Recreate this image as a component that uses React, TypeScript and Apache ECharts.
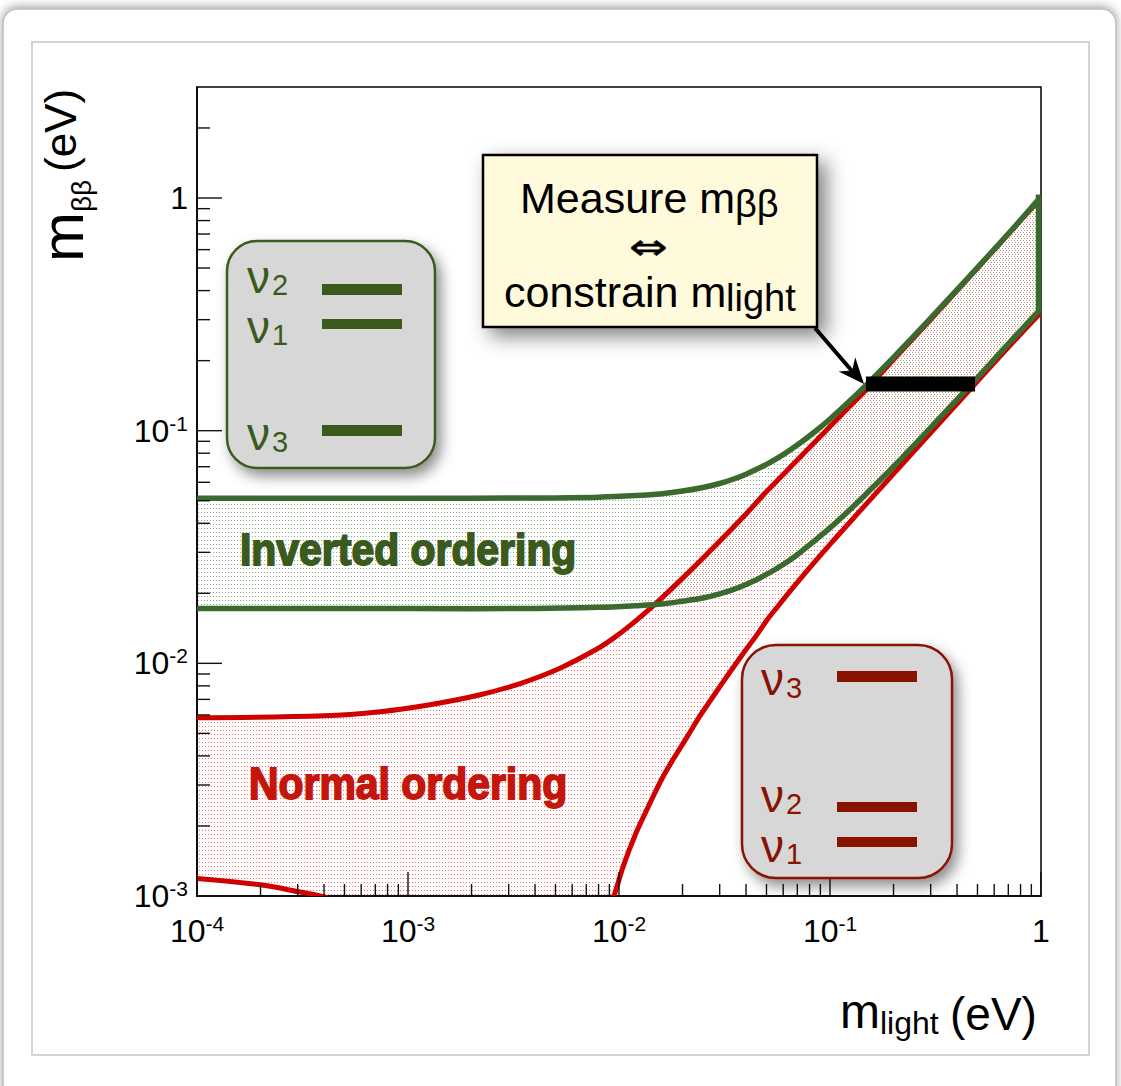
import { useEffect, useRef } from 'react';
import * as echarts from 'echarts';

// ---------- axis structure ----------
const X_DECADES = [1e-4, 1e-3, 1e-2, 1e-1, 1];
const Y_DECADES = [1e-3, 1e-2, 1e-1, 1];
const MANTISSA = [2, 3, 4, 5, 6, 7, 8, 9];

// ---------- Inverted ordering band ----------
const IO_X = [1e-4, 1e-3, 0.004, 0.008, 0.012, 0.016, 0.02, 0.025, 0.03, 0.035, 0.04, 0.05, 0.06, 0.07, 0.085, 0.1, 0.12, 0.15, 0.2, 0.3, 0.5, 0.7, 1];
const IO_UPPER = [0.0512, 0.0512, 0.0514, 0.0518, 0.0526, 0.0536, 0.055, 0.057, 0.0593, 0.062, 0.065, 0.0716, 0.0789, 0.0867, 0.0992, 0.1123, 0.1305, 0.1585, 0.2064, 0.3043, 0.5026, 0.7019, 1.015];
const IO_LOWER = [0.0172, 0.0172, 0.0172, 0.0174, 0.0177, 0.018, 0.0185, 0.0191, 0.0199, 0.0208, 0.0218, 0.0241, 0.0266, 0.0293, 0.0338, 0.0382, 0.0444, 0.054, 0.07, 0.103, 0.169, 0.236, 0.335];

// ---------- Normal ordering band ----------
const NO_UP_X = [1e-4, 4e-4, 7.4e-4, 0.00127, 0.0022, 0.0034, 0.00525, 0.0079, 0.0095, 0.0113, 0.0151, 0.021, 0.03, 0.04, 0.05, 0.07, 0.1, 0.12, 0.143, 0.17, 0.2, 0.3, 0.5, 0.7, 1];
const NO_UPPER = [0.00584, 0.00595, 0.0062, 0.00664, 0.00733, 0.00819, 0.00953, 0.01155, 0.0129, 0.01455, 0.01825, 0.02424, 0.03351, 0.04387, 0.0547, 0.0748, 0.1042, 0.1234, 0.1447, 0.172, 0.202, 0.3, 0.5, 0.7, 1.0];
const NO_LO_X = [0.009, 0.0095, 0.0105, 0.012, 0.014, 0.016, 0.018, 0.021, 0.0242, 0.03, 0.0383, 0.045, 0.05, 0.0561, 0.065, 0.078, 0.1, 0.143, 0.2, 0.3, 0.5, 0.7, 1];
const NO_LOWER = [0.00089, 0.00101, 0.00135, 0.00185, 0.0025, 0.0032, 0.00385, 0.00482, 0.00594, 0.00792, 0.01086, 0.01325, 0.01524, 0.0174, 0.02054, 0.02504, 0.03246, 0.04657, 0.06525, 0.09784, 0.1631, 0.2282, 0.3225];
const NO_LO2_X = [1e-4, 2.03e-4, 3.08e-4, 3.83e-4, 4.3e-4];
const NO_LOWER2 = [0.00119, 0.001115, 0.00104, 0.001, 0.00097];

// ---------- measured m_bb band ----------
const BAR_X = [0.148, 0.487];
const BAR_Y = [0.1586, 0.1586];

const FONT = '"Liberation Sans", Arial, Helvetica, sans-serif';
const GREEN_LINE = '#3b6a2f';
const GREEN_DARK = '#3b5a1e';
const RED_LINE = '#d00000';
const RED_DARK = '#871300';

function dots(color: string, ox: number, oy: number) {
  const c = document.createElement('canvas');
  c.width = 3;
  c.height = 4;
  const ctx = c.getContext('2d')!;
  ctx.fillStyle = color;
  ctx.fillRect(ox, oy, 1, 1);
  return { image: c.toDataURL(), repeat: 'repeat', imageWidth: 3, imageHeight: 4 };
}

function pts(api: any, xs: number[], ys: number[]) {
  return xs.map((x, i) => api.coord([x, ys[i]]));
}

function decadeLabel(v: number) {
  const l = Math.log10(v);
  const e = Math.round(l);
  if (Math.abs(l - e) > 1e-6) return '';
  if (e === 0) return '{b|1}';
  return '{b|10}{s|' + e + '}';
}

export default function App() {
  const ref = useRef<HTMLDivElement>(null);
  useEffect(() => {
    if (!ref.current) return;
    const chart = echarts.init(ref.current, undefined, { renderer: 'svg' });
    const greenFill = dots('rgba(70,120,60,0.6)', 0, 0);
    const redFill = dots('rgba(230,30,30,0.65)', 1, 2);

    const tickData: number[][] = [];
    X_DECADES.forEach((d, i) => {
      tickData.push([d, 1e-3, 0, 24]);
      if (i < X_DECADES.length - 1) MANTISSA.forEach((m) => tickData.push([d * m, 1e-3, 0, 12]));
    });
    Y_DECADES.forEach((d, i) => {
      tickData.push([1e-4, d, 1, 25]);
      if (i < Y_DECADES.length - 1) MANTISSA.forEach((m) => tickData.push([1e-4, d * m, 1, 13]));
    });
    tickData.push([1e-4, 2, 1, 13]);

    const labelRich = {
      b: { fontSize: 32, lineHeight: 36, fontFamily: FONT, color: '#000' },
      s: { fontSize: 21, lineHeight: 16, verticalAlign: 'top', fontFamily: FONT, color: '#000' },
    };

    const curveLine = (xs: number[], ys: number[], color: string, w: number, z: number) => ({
      type: 'custom',
      coordinateSystem: 'cartesian2d',
      clip: true,
      silent: true,
      z,
      data: [[0.01, 0.01]],
      renderItem: (_p: any, api: any) => ({
        type: 'polyline',
        shape: { points: pts(api, xs, ys), smooth: 0.35 },
        style: { stroke: color, lineWidth: w, fill: null, lineJoin: 'round', lineCap: 'butt' },
      }),
    });

    const txt = (text: string, x: number, y: number, fs: number, fill: string, extra: any = {}) => ({
      type: 'text', z: 101, x, y, ...extra,
      style: { text, fontSize: fs, fontFamily: FONT, fill, align: 'left', verticalAlign: 'middle', ...(extra.style || {}) },
    });

    const option: any = {
      animation: false,
      grid: { left: 197, top: 87, width: 844, height: 809, show: true, borderColor: '#000', borderWidth: 1.5, backgroundColor: 'transparent' },
      xAxis: {
        type: 'log', logBase: 10, min: 1e-4, max: 1,
        axisLine: { show: true, lineStyle: { color: '#000', width: 1.5 } },
        axisTick: { show: false }, minorTick: { show: false }, splitLine: { show: false },
        axisLabel: { margin: 17, formatter: decadeLabel, rich: labelRich, showMinLabel: true, showMaxLabel: true },
      },
      yAxis: {
        type: 'log', logBase: 10, min: 1e-3, max: 3,
        axisLine: { show: true, lineStyle: { color: '#000', width: 1.5 } },
        axisTick: { show: false }, minorTick: { show: false }, splitLine: { show: false },
        axisLabel: { margin: 9, formatter: decadeLabel, rich: labelRich, showMinLabel: true },
      },
      series: [
        {
          type: 'custom', coordinateSystem: 'cartesian2d', clip: true, silent: true, z: 1,
          data: [[0.01, 0.01]],
          renderItem: (_p: any, api: any) => ({
            type: 'polygon',
            shape: { points: [...pts(api, IO_X, IO_UPPER), ...pts(api, IO_X, IO_LOWER).reverse()] },
            style: { fill: greenFill, stroke: null },
          }),
        },
        {
          type: 'custom', coordinateSystem: 'cartesian2d', clip: true, silent: true, z: 1,
          data: [[0.01, 0.01]],
          renderItem: (_p: any, api: any) => ({
            type: 'polygon',
            shape: {
              points: [
                ...pts(api, NO_UP_X, NO_UPPER),
                ...pts(api, NO_LO_X, NO_LOWER).reverse(),
                ...pts(api, NO_LO2_X, NO_LOWER2).reverse(),
              ],
            },
            style: { fill: redFill, stroke: null },
          }),
        },
        curveLine(NO_UP_X, NO_UPPER, RED_LINE, 5, 3),
        curveLine(NO_LO_X, NO_LOWER, RED_LINE, 5, 3),
        curveLine(NO_LO2_X, NO_LOWER2, RED_LINE, 5, 3),
        curveLine(IO_X, IO_UPPER, GREEN_LINE, 5.5, 4),
        curveLine(IO_X, IO_LOWER, GREEN_LINE, 5.5, 4),
        {
          type: 'custom', coordinateSystem: 'cartesian2d', clip: true, silent: true, z: 4,
          data: [[1, 0.5]],
          renderItem: (_p: any, api: any) => {
            const n = IO_X.length - 1;
            const a = api.coord([IO_X[n], IO_UPPER[n]]);
            const b = api.coord([IO_X[n], IO_LOWER[n]]);
            return { type: 'line', shape: { x1: a[0] - 2.5, y1: a[1] - 2, x2: b[0] - 2.5, y2: b[1] + 2 }, style: { stroke: GREEN_LINE, lineWidth: 5.5 } };
          },
        },
        {
          type: 'line', z: 5, silent: true, symbol: 'none',
          data: BAR_X.map((x, i) => [x, BAR_Y[i]]),
          lineStyle: { color: '#000', width: 15, cap: 'butt' },
        },
        {
          type: 'custom', coordinateSystem: 'cartesian2d', clip: false, silent: true, z: 6,
          data: tickData,
          renderItem: (_p: any, api: any) => {
            const p = api.coord([api.value(0), api.value(1)]);
            const dir = api.value(2);
            const len = api.value(3);
            return {
              type: 'line',
              shape: { x1: p[0], y1: p[1], x2: p[0] + (dir ? len : 0), y2: p[1] - (dir ? 0 : len) },
              style: { stroke: '#111', lineWidth: 1.4 },
            };
          },
        },
      ],
      graphic: [
        { type: 'rect', z: -20, shape: { x: 3, y: 9, width: 1113, height: 1095, r: 14 }, style: { fill: '#fff', stroke: '#bcbcbc', lineWidth: 1.5, shadowBlur: 10, shadowColor: 'rgba(0,0,0,0.35)', shadowOffsetY: -2 } },
        { type: 'rect', z: -19, shape: { x: 32, y: 42, width: 1057, height: 1013 }, style: { fill: '#fff', stroke: '#d4d4d4', lineWidth: 2 } },

        // axis titles
        txt('m', 840, 1011, 48, '#000', { z: 50 }),
        txt('light', 880, 1023, 32, '#000', { z: 50 }),
        txt('(eV)', 950, 1014, 46, '#000', { z: 50 }),
        txt('m', 62, 262, 60, '#000', { z: 50, rotation: Math.PI / 2 }),
        txt('ββ', 81, 212, 28, '#000', { z: 50, rotation: Math.PI / 2 }),
        txt('(eV)', 60.6, 172, 44, '#000', { z: 50, rotation: Math.PI / 2 }),

        // region labels
        txt('Inverted ordering', 240, 550, 44, GREEN_DARK, { z: 50, scaleX: 0.93, style: { fontWeight: 'bold', stroke: GREEN_DARK, lineWidth: 1.8 } }),
        txt('Normal ordering', 249, 784, 44, '#c4160c', { z: 50, scaleX: 0.93, style: { fontWeight: 'bold', stroke: '#c4160c', lineWidth: 1.8 } }),

        // inverted hierarchy box
        { type: 'rect', z: 100, shape: { x: 227, y: 241, width: 208, height: 227, r: 30 }, style: { fill: '#d7d7d7', stroke: GREEN_DARK, lineWidth: 2.5, shadowBlur: 14, shadowOffsetX: 5, shadowOffsetY: 7, shadowColor: 'rgba(0,0,0,0.45)' } },
        { type: 'rect', z: 101, shape: { x: 322, y: 284, width: 80, height: 11 }, style: { fill: GREEN_DARK } },
        { type: 'rect', z: 101, shape: { x: 322, y: 319, width: 80, height: 10 }, style: { fill: GREEN_DARK } },
        { type: 'rect', z: 101, shape: { x: 322, y: 425, width: 80, height: 11 }, style: { fill: GREEN_DARK } },
        txt('ν', 247, 276.5, 46, GREEN_DARK),
        txt('2', 272, 285, 29, GREEN_DARK),
        txt('ν', 247, 326.5, 46, GREEN_DARK),
        txt('1', 272, 335, 29, GREEN_DARK),
        txt('ν', 247, 433.5, 46, GREEN_DARK),
        txt('3', 272, 442, 29, GREEN_DARK),

        // normal hierarchy box
        { type: 'rect', z: 100, shape: { x: 742, y: 645, width: 210, height: 233, r: 34 }, style: { fill: '#d7d7d7', stroke: RED_DARK, lineWidth: 2.5, shadowBlur: 14, shadowOffsetX: 5, shadowOffsetY: 7, shadowColor: 'rgba(0,0,0,0.45)' } },
        { type: 'rect', z: 101, shape: { x: 837, y: 671, width: 80, height: 11 }, style: { fill: RED_DARK } },
        { type: 'rect', z: 101, shape: { x: 837, y: 802, width: 80, height: 10 }, style: { fill: RED_DARK } },
        { type: 'rect', z: 101, shape: { x: 837, y: 837, width: 80, height: 10 }, style: { fill: RED_DARK } },
        txt('ν', 761, 679, 46, RED_DARK),
        txt('3', 786, 688, 29, RED_DARK),
        txt('ν', 761, 795.5, 46, RED_DARK),
        txt('2', 786, 804, 29, RED_DARK),
        txt('ν', 761, 845.5, 46, RED_DARK),
        txt('1', 786, 854, 29, RED_DARK),

        // callout
        { type: 'rect', z: 100, shape: { x: 483, y: 155, width: 334, height: 172 }, style: { fill: '#fffadc', stroke: '#000', lineWidth: 2.5, shadowBlur: 20, shadowOffsetX: 8, shadowOffsetY: 8, shadowColor: 'rgba(0,0,0,0.5)' } },
        txt('Measure m', 520, 198, 43, '#000'),
        txt('ββ', 735, 204, 38, '#000'),
        txt('⇔', 648, 247, 35, '#000', { scaleX: 1.3, style: { align: 'center', fontFamily: '"DejaVu Sans", sans-serif', stroke: '#000', lineWidth: 0.6 } }),
        txt('constrain m', 504, 292, 43, '#000'),
        txt('light', 726, 298, 38, '#000'),
        { type: 'line', z: 100, shape: { x1: 815, y1: 328, x2: 852, y2: 371 }, style: { stroke: '#000', lineWidth: 4 } },
        { type: 'polygon', z: 100, shape: { points: [[864, 384], [838.6, 371.6], [852.2, 370.5], [855.2, 357.2]] }, style: { fill: '#000' } },
      ],
    };
    chart.setOption(option);
    return () => chart.dispose();
  }, []);
  return <div ref={ref} style={{ position: 'absolute', left: 0, top: 0, width: 1121, height: 1086 }} />;
}
